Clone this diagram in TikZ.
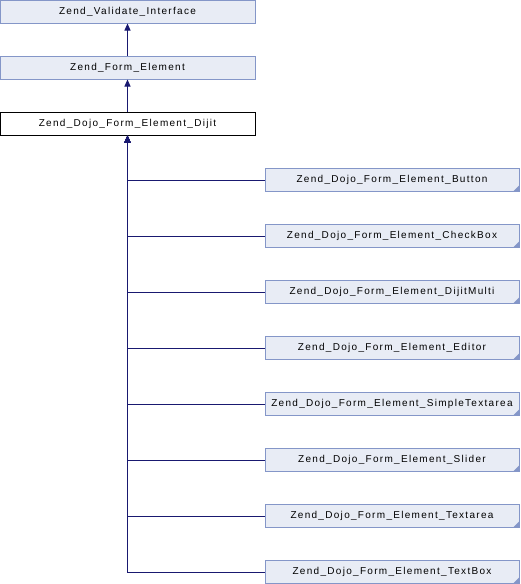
\documentclass[tikz,border=0pt]{standalone}
\usepackage{fontspec}
\setmainfont{Liberation Sans}[LetterSpace=13]
\usetikzlibrary{arrows.meta}
\definecolor{boxfill}{HTML}{E8ECF5}
\definecolor{boxedge}{HTML}{8496C8}
\definecolor{linkblue}{HTML}{191970}
\tikzset{
	classnode/.style = {
		rectangle,
		align=center,
		inner sep=0pt,
		font=\fontsize{10}{12}\selectfont,
		minimum width=255pt,
		minimum height=23pt,
		draw=boxedge,
		fill=boxfill,
		line width=1pt
	},
	node_cur/.style = {
		classnode,
		draw=black,
		fill=white
	},
	node_more/.style = {
		classnode,
		minimum width=254pt,
		path picture={
			\fill[boxedge] (path picture bounding box.south east)
				-- ++(-6pt,0pt) -- ++(6pt,6pt) -- cycle;
		}
	},
	inherit/.style = {
		linkblue,
		line width=1pt,
		-{Triangle[length=7pt,width=6pt]}
	},
}
\begin{document}
\begin{tikzpicture}[x=1pt,y=-1pt]
\useasboundingbox (0,0) rectangle (520,584);
% base classes
\node [classnode] (validate) at (127.5,11.5) {Zend\_Validate\_Interface};
\node [classnode] (form) at (127.5,67.5) {Zend\_Form\_Element};
\node [node_cur] (dijit) at (127.5,123.5) {Zend\_Dojo\_Form\_Element\_Dijit};
% derived classes
\node [node_more] (button) at (392,180) {Zend\_Dojo\_Form\_Element\_Button};
\node [node_more] (checkbox) at (392,236) {Zend\_Dojo\_Form\_Element\_CheckBox};
\node [node_more] (multi) at (392,292) {Zend\_Dojo\_Form\_Element\_DijitMulti};
\node [node_more] (editor) at (392,348) {Zend\_Dojo\_Form\_Element\_Editor};
\node [node_more] (simple) at (392,404) {Zend\_Dojo\_Form\_Element\_SimpleTextarea};
\node [node_more] (slider) at (392,460) {Zend\_Dojo\_Form\_Element\_Slider};
\node [node_more] (textarea) at (392,516) {Zend\_Dojo\_Form\_Element\_Textarea};
\node [node_more] (textbox) at (392,572) {Zend\_Dojo\_Form\_Element\_TextBox};
% edges
\draw [inherit] (form) -- (validate);
\draw [inherit] (dijit) -- (form);
\draw [inherit] (button) -| (dijit);
\draw [inherit] (checkbox) -| (dijit);
\draw [inherit] (multi) -| (dijit);
\draw [inherit] (editor) -| (dijit);
\draw [inherit] (simple) -| (dijit);
\draw [inherit] (slider) -| (dijit);
\draw [inherit] (textarea) -| (dijit);
\draw [inherit] (textbox) -| (dijit);
\end{tikzpicture}
\end{document}
